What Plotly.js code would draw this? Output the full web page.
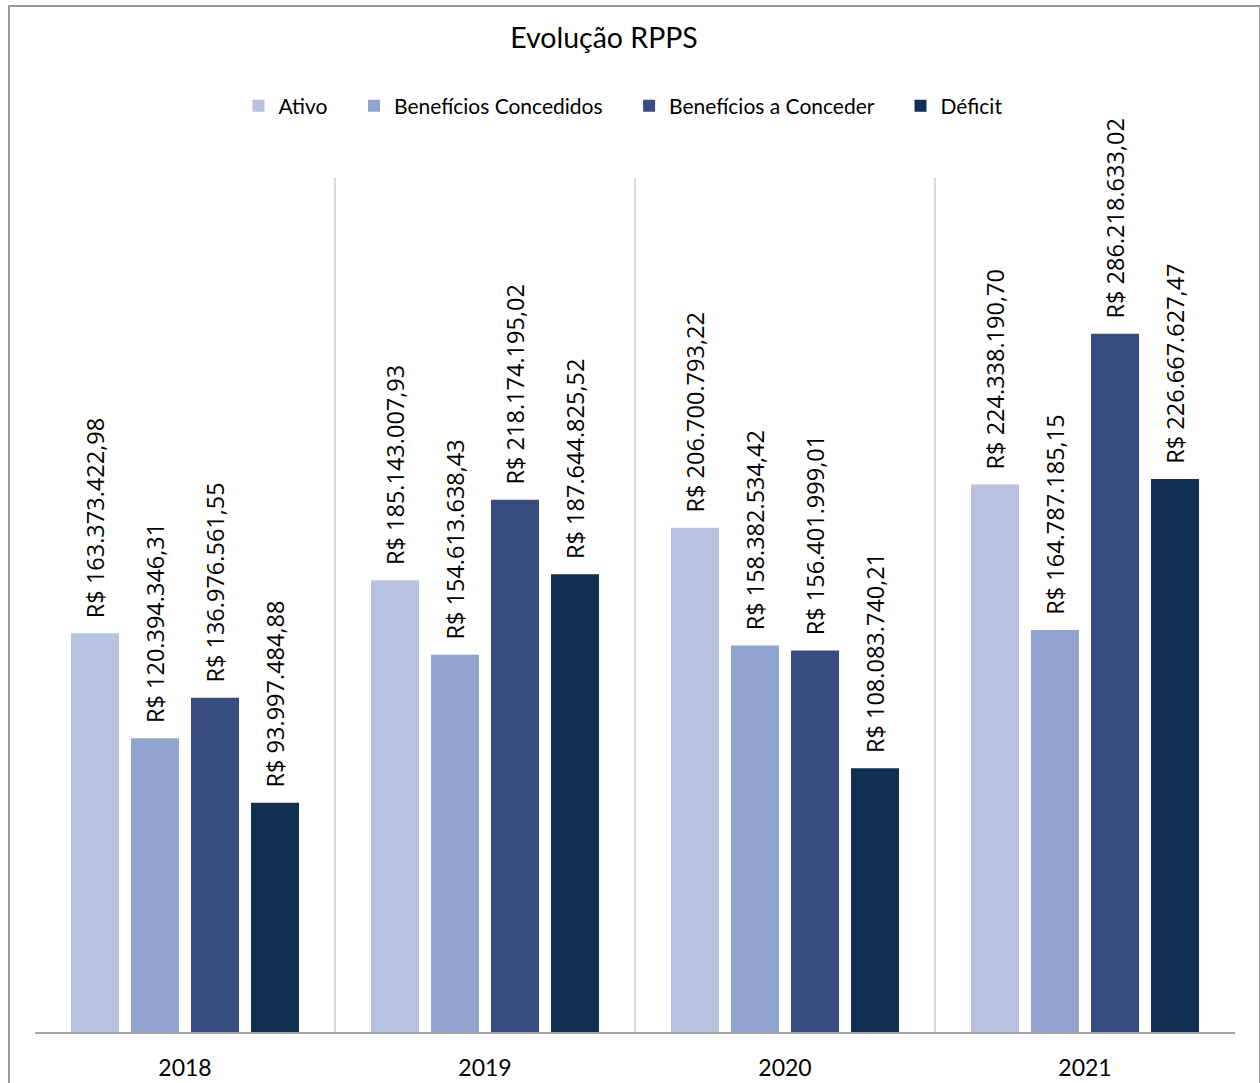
<!DOCTYPE html>
<html>
<head>
<meta charset="utf-8">
<script src="https://cdn.plot.ly/plotly-3.0.1.min.js"></script>
<style>
  html, body { margin: 0; padding: 0; background: #ffffff; }
  #wrap { position: relative; width: 1260px; height: 1083px; }
  #chart { position: absolute; left: 0; top: 0; width: 1260px; height: 1083px; }
  #frame { position: absolute; left: 8px; top: 5px; width: 1249px; height: 1090px;
           border-left: 2px solid #9a9a9a; border-top: 2px solid #9a9a9a; border-right: 2px solid #9a9a9a;
           pointer-events: none; }
</style>
</head>
<body>
<div id="wrap">
  <div id="chart"></div>
  <div id="frame"></div>
</div>
<script>
const years = ['2018', '2019', '2020', '2021'];
const seriesNames = ['Ativo', 'Benefícios Concedidos', 'Benefícios a Conceder', 'Déficit'];
const ativo = [163373422.98, 185143007.93, 206700793.22, 224338190.70];
const beneficiosConcedidos = [120394346.31, 154613638.43, 158382534.42, 164787185.15];
const beneficiosAConceder = [136976561.55, 218174195.02, 156401999.01, 286218633.02];
const deficit = [93997484.88, 187644825.52, 108083740.21, 226667627.47];
const seriesColors = ['#b6c2e0', '#91a4d0', '#374c80', '#112f52'];

function brl(v) {
  const parts = v.toFixed(2).split('.');
  const intPart = parts[0].replace(/\B(?=(\d{3})+(?!\d))/g, '.');
  return 'R$ ' + intPart + ',' + parts[1];
}

const NB = '\u00A0';
const labelPad = NB.repeat(2);
const legendPad = NB.repeat(4);

const allValues = [ativo, beneficiosConcedidos, beneficiosAConceder, deficit];
const traces = allValues.map((vals, i) => ({
  type: 'bar',
  name: seriesNames[i] + (i < seriesNames.length - 1 ? legendPad : ''),
  x: years,
  y: vals,
  marker: { color: seriesColors[i] },
  text: vals.map(v => labelPad + brl(v)),
  textposition: 'outside',
  textangle: -90,
  cliponaxis: false,
  constraintext: 'none',
  textfont: { family: 'Open Sans, sans-serif', size: 23.5, color: '#000000' },
  hoverinfo: 'skip'
}));

const layout = {
  width: 1260,
  height: 1083,
  paper_bgcolor: '#ffffff',
  plot_bgcolor: '#ffffff',
  margin: { l: 35, r: 25, t: 178, b: 51 },
  barmode: 'group',
  bargap: 0.2,
  bargroupgap: 0.2,
  showlegend: true,
  title: {
    text: 'Evolução RPPS',
    font: { family: 'Lato, sans-serif', size: 28.5, color: '#000000' },
    x: 604 / 1260, xref: 'container', xanchor: 'center',
    y: 1 - 38 / 1083, yref: 'container', yanchor: 'middle'
  },
  legend: {
    orientation: 'h',
    x: 623 / 1260, xref: 'container', xanchor: 'center',
    y: 1 - 106 / 1083, yref: 'container', yanchor: 'middle',
    font: { family: 'Lato, sans-serif', size: 21, color: '#000000' },
    itemwidth: 30,
    tracegroupgap: 0,
    traceorder: 'normal'
  },
  xaxis: {
    type: 'category',
    tickson: 'boundaries',
    showgrid: true,
    gridcolor: '#d9d9d9',
    gridwidth: 2,
    showline: true,
    linecolor: '#a6a6a6',
    linewidth: 2,
    ticks: '',
    ticklabelstandoff: 14,
    tickfont: { family: 'Lato, sans-serif', size: 23, color: '#000000' },
    fixedrange: true
  },
  yaxis: {
    range: [0, 350000000],
    showgrid: false,
    showticklabels: false,
    zeroline: false,
    showline: false,
    fixedrange: true
  }
};

Plotly.newPlot('chart', traces, layout, { displayModeBar: false, staticPlot: true });
</script>
</body>
</html>
